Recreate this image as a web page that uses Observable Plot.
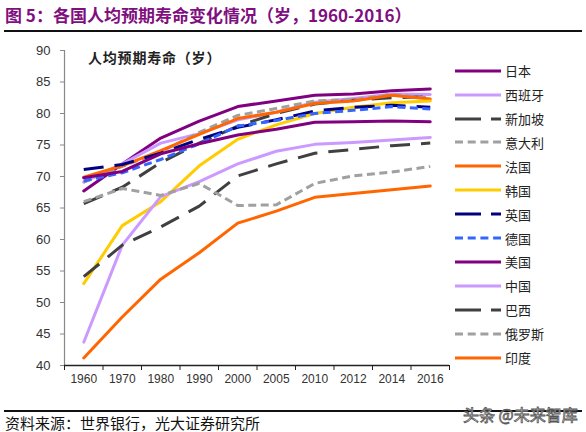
<!DOCTYPE html>
<html><head><meta charset="utf-8">
<script src="https://cdn.jsdelivr.net/npm/d3@7"></script>
<script src="https://cdn.jsdelivr.net/npm/@observablehq/plot@0.6"></script>
<style>
body{margin:0;background:#fff;}
#wrap{position:relative;width:586px;height:432px;overflow:hidden;background:#fff;font-family:"Liberation Sans",Arial,sans-serif;}
#title{position:absolute;left:5px;top:2px;font-family:"Noto Sans CJK SC",sans-serif;font-weight:bold;font-size:17px;color:#7f0f7f;white-space:nowrap;}
.rule{position:absolute;left:4px;width:578px;height:1.5px;background:#111;}
#chart{position:absolute;left:0;top:32px;}
#inner{position:absolute;left:88px;top:47px;font-family:"Noto Sans CJK SC",serif;font-weight:bold;font-size:14px;letter-spacing:0.8px;color:#222;white-space:nowrap;}
#legend{position:absolute;left:455px;top:0;}
.lg{position:absolute;left:0;height:20px;display:flex;align-items:center;white-space:nowrap;font-family:"Noto Sans CJK SC",sans-serif;font-size:13px;color:#222;}
.lg svg{margin-right:4px;}
#source{position:absolute;left:5px;top:412px;font-family:"Noto Sans CJK SC",serif;font-size:15px;color:#111;white-space:nowrap;}
#wm{position:absolute;left:463px;top:402px;font-family:"Noto Sans CJK SC",sans-serif;font-size:16px;color:#fff;-webkit-text-stroke:0.8px #555;white-space:nowrap;}
</style></head><body>
<div id="wrap">
  <div id="title">图 5：各国人均预期寿命变化情况（岁，1960-2016）</div>
  <div class="rule" style="top:30px"></div>
  <div id="chart"></div>
  <div id="inner">人均预期寿命（岁）</div>
  <div id="legend"></div>
  <div class="rule" style="top:410px"></div>
  <div id="source">资料来源：世界银行，光大证券研究所</div>
  <div id="wm">头条 @未来智库</div>
</div>
<script>
const years = ["1960","1970","1980","1990","2000","2005","2010","2012","2014","2016"];
const countries = ["日本","西班牙","新加坡","意大利","法国","韩国","英国","德国","美国","中国","巴西","俄罗斯","印度"];
const japan     = [67.7, 72.0, 76.1, 78.8, 81.1, 82.0, 82.9, 83.1, 83.6, 83.9];
const spain     = [69.1, 72.0, 75.3, 76.8, 79.0, 80.2, 81.8, 82.4, 83.1, 83.0];
const singapore = [65.7, 68.3, 72.2, 75.3, 78.0, 80.0, 81.5, 82.1, 82.5, 82.7];
const italy     = [69.1, 71.6, 73.9, 77.0, 79.7, 80.8, 82.0, 82.2, 83.0, 82.5];
const france    = [69.9, 71.7, 74.1, 76.7, 79.2, 80.2, 81.6, 82.0, 82.9, 82.3];
const korea     = [53.0, 62.2, 66.0, 71.7, 75.9, 78.2, 80.0, 81.0, 81.7, 82.0];
const uk        = [71.1, 71.9, 73.7, 75.9, 77.8, 79.0, 80.4, 81.0, 81.3, 81.0];
const germany   = [69.3, 70.6, 72.7, 75.2, 78.0, 78.9, 80.0, 80.5, 81.1, 80.7];
const usa       = [69.8, 70.8, 73.6, 75.2, 76.6, 77.5, 78.6, 78.7, 78.8, 78.7];
const china     = [43.7, 59.1, 66.8, 69.2, 72.0, 74.0, 75.1, 75.4, 75.8, 76.2];
const brazil    = [54.1, 59.1, 62.0, 65.3, 70.1, 72.0, 73.7, 74.3, 74.9, 75.3];
const russia    = [66.0, 68.1, 67.0, 68.9, 65.4, 65.5, 68.9, 70.1, 70.7, 71.6];
const india     = [41.2, 47.7, 53.7, 57.9, 62.6, 64.5, 66.7, 67.3, 67.9, 68.5];
const seriesValues = [japan, spain, singapore, italy, france, korea, uk, germany, usa, china, brazil, russia, india];
const yTicks = [40, 45, 50, 55, 60, 65, 70, 75, 80, 85, 90];

// styles
const colors = ["#800080","#cc99ff","#404040","#a0a0a0","#ff6600","#ffcc00","#000080","#3366ff","#800080","#cc99ff","#404040","#a0a0a0","#ff6600"];
const LONG = "20,11", SHORT = "8,4.5";
const dashes = [null, null, LONG, SHORT, null, null, LONG, SHORT, null, null, LONG, SHORT, null];

const rows = [];
countries.forEach((c, k) => seriesValues[k].forEach((v, i) => rows.push({c, k, i, v})));

const lineMarks = countries.map((c, k) => Plot.line(rows.filter(d => d.k === k), {
  x: "i", y: "v", stroke: colors[k], strokeWidth: 3,
  strokeDasharray: dashes[k] || undefined,
  strokeLinecap: dashes[k] ? "butt" : "round", strokeLinejoin: "round"
}));

const chart = Plot.plot({
  width: 586, height: 365,
  marginLeft: 64, marginRight: 137, marginTop: 18, marginBottom: 32,
  style: {fontFamily: '"Liberation Sans", Arial, sans-serif', color: "#333", background: "transparent"},
  x: {domain: [-0.5, years.length - 0.5]},
  y: {domain: [40, 90]},
  marks: [
    Plot.axisY({ticks: yTicks, tickSize: 4, tickPadding: 10, stroke: "#888", fontSize: 13, label: null}),
    Plot.axisX({ticks: d3.range(-0.5, years.length, 1), tickSize: 5, stroke: "#222", tickFormat: () => "", label: null}),
    Plot.axisX({ticks: d3.range(0, years.length), tickSize: 0, tickPadding: 9, tickFormat: i => years[i], fontSize: 12, label: null}),
    Plot.ruleX([-0.5], {stroke: "#888", strokeWidth: 1.2}),
    Plot.ruleY([40], {stroke: "#222", strokeWidth: 1.5}),
    ...lineMarks
  ]
});
document.getElementById("chart").appendChild(chart);

// legend
const lg = document.getElementById("legend");
countries.forEach((c, k) => {
  const row = document.createElement("div");
  row.className = "lg";
  row.style.top = (70.7 + k * 23.9 - 10) + "px";
  const da = dashes[k] ? (dashes[k] === LONG ? "26,10,10,0" : "8,4.7") : null;
  row.innerHTML = `<svg width="46" height="6"><line x1="0" y1="3" x2="46" y2="3" stroke="${colors[k]}" stroke-width="3.2" ${da ? `stroke-dasharray="${da}"` : ""}/></svg><span>${c}</span>`;
  lg.appendChild(row);
});
</script>
</body></html>
